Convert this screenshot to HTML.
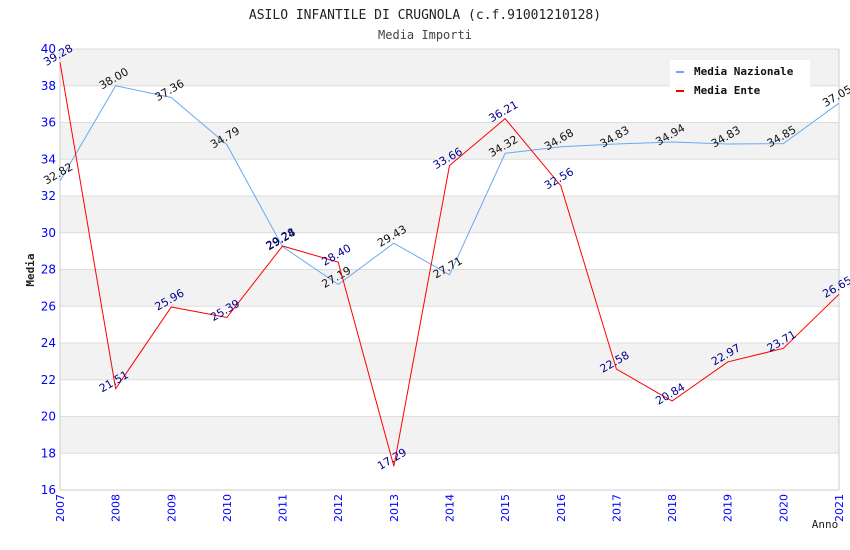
<!DOCTYPE html>
<html><head><meta charset="utf-8"><style>
body{margin:0;background:#fff}
svg{display:block;font-family:"DejaVu Sans","Liberation Sans",sans-serif}
.mono{font-family:"DejaVu Sans Mono","Liberation Mono",monospace}
</style></head><body>
<svg id="chart" width="850" height="550">
<text class="mono" x="425" y="19" text-anchor="middle" font-size="13" fill="#222">ASILO INFANTILE DI CRUGNOLA (c.f.91001210128)</text>
<text class="mono" x="425" y="39" text-anchor="middle" font-size="12" fill="#444">Media Importi</text>
<g id="bands"></g><g id="axes"></g><g id="series"></g>
<text class="mono" x="34" y="270" transform="rotate(-90 34 270)" text-anchor="middle" font-size="11" font-weight="bold" fill="#222">Media</text>
<text class="mono" x="825" y="528" text-anchor="middle" font-size="11" fill="#222">Anno</text>
<g>
<rect x="670" y="60" width="140" height="40" fill="#fff"/>
<rect x="676" y="71" width="8" height="2" fill="#6aa9f0"/>
<text class="mono" x="694" y="75" font-size="11" font-weight="bold" fill="#111">Media Nazionale</text>
<rect x="676" y="90" width="8" height="2" fill="#f00"/>
<text class="mono" x="694" y="94" font-size="11" font-weight="bold" fill="#111">Media Ente</text>
</g>
</svg>
<script>
const years=[2007,2008,2009,2010,2011,2012,2013,2014,2015,2016,2017,2018,2019,2020,2021];
const nazionale=[32.82,38.00,37.36,34.79,29.24,27.19,29.43,27.71,34.32,34.68,34.83,34.94,34.83,34.85,37.05];
const ente=[39.28,21.51,25.96,25.39,29.28,28.40,17.29,33.66,36.21,32.56,22.58,20.84,22.97,23.71,26.65];
const yTicks=[16,18,20,22,24,26,28,30,32,34,36,38,40];
const X0=60,X1=839,Y0=490,Y1=49,NS="http://www.w3.org/2000/svg";
const x=i=>X0+(X1-X0)*i/(years.length-1);
const y=v=>Y0-(v-16)/(40-16)*(Y0-Y1);
function mk(t,a,p){const e=document.createElementNS(NS,t);for(const k in a)e.setAttribute(k,a[k]);p.appendChild(e);return e;}
const bands=document.getElementById('bands'),axes=document.getElementById('axes'),series=document.getElementById('series');
for(let i=0;i<yTicks.length-1;i++){
 const lo=yTicks[i],hi=yTicks[i+1];
 const r=mk('rect',{x:X0,y:y(hi),width:X1-X0,height:y(lo)-y(hi),fill:(i%2===1)?'#f2f2f2':'#fff'},bands);
 
 
}
yTicks.forEach(v=>{
 const l=mk('line',{x1:X0,x2:X1,y1:y(v),y2:y(v),stroke:'#ddd'},axes);
 
 
 const t=mk('text',{x:X0-4,y:y(v)+4,'text-anchor':'end','font-size':12,fill:'#00f'},axes);t.textContent=v;
 
 
});
mk('line',{x1:X0,x2:X0,y1:Y1,y2:Y0,stroke:'#ccc'},axes);
mk('line',{x1:X1,x2:X1,y1:Y1,y2:Y0,stroke:'#ccc'},axes);
mk('line',{x1:X0,x2:X1,y1:Y0,y2:Y0,stroke:'#ccc'},axes);
years.forEach((yr,i)=>{
 const t=mk('text',{x:x(i)+4,y:Y0+4,'text-anchor':'end','font-size':11,fill:'#00f',transform:`rotate(-90 ${x(i)+4} ${Y0+4})`},axes);
 t.textContent=yr;
 
 
});
function draw(vals,color,lblColor,name){
 const p=mk('polyline',{points:vals.map((v,i)=>x(i)+','+y(v)).join(' '),fill:'none',stroke:color,'stroke-width':1},series);
 
 
 vals.forEach((v,i)=>{
  const tx=x(i),ty=y(v)-4;
  const t=mk('text',{x:tx,y:ty,'text-anchor':'middle','font-size':11,fill:lblColor,transform:`rotate(-30 ${tx} ${ty})`},series);
  t.textContent=v.toFixed(2);
  
  
 });
}
draw(nazionale,'#6aa9f0','#111','nazionale');
draw(ente,'#f00','#00008b','ente');
</script>
</body></html>
